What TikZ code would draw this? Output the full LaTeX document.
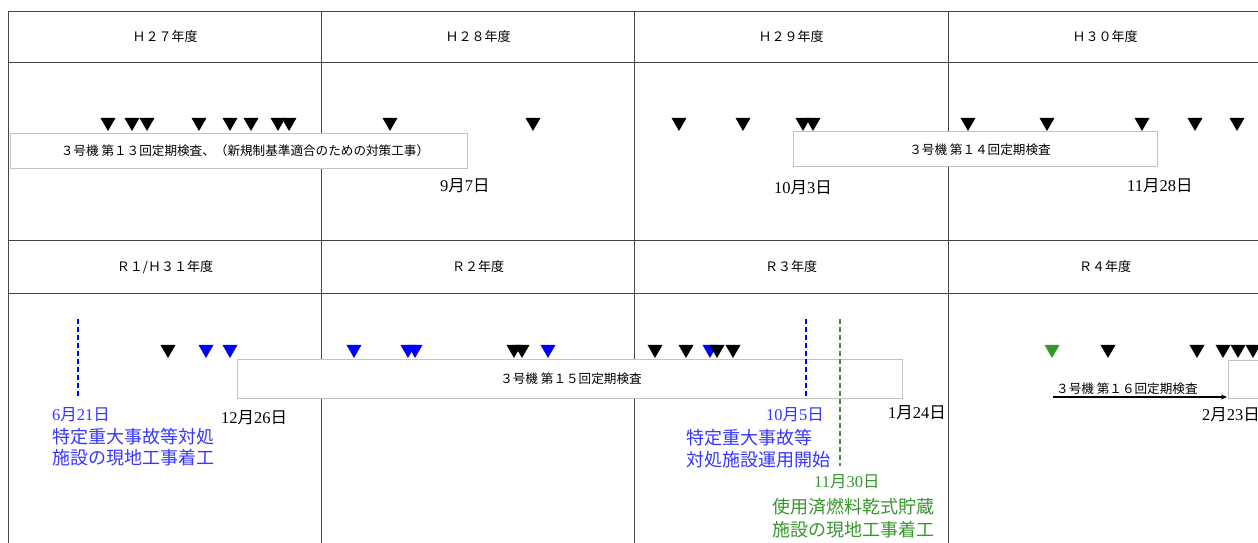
\documentclass[tikz,border=0pt]{standalone}
\usepackage{fontspec}
\setmainfont{Noto Sans CJK JP}
\newfontfamily\sr{Liberation Serif}
\usetikzlibrary{shapes.geometric,arrows.meta}
\definecolor{gridc}{RGB}{70,70,70}
\definecolor{boxc}{RGB}{195,195,195}
\definecolor{myblue}{RGB}{0,0,255}
\definecolor{txtblue}{RGB}{55,55,255}
\definecolor{mygreen}{RGB}{55,150,45}
\tikzset{
  gridline/.style={draw=gridc, line width=1pt},
  tri/.style={regular polygon, regular polygon sides=3, shape border rotate=180,
    minimum size=17.3pt, inner sep=0pt, draw=none, fill=black},
  bluetri/.style={tri, fill=myblue},
  greentri/.style={tri, fill=mygreen},
  hdr/.style={font=\fontsize{13}{15}\selectfont, inner sep=0pt},
  bartext/.style={font=\fontsize{12.6}{14}\selectfont, inner sep=0pt},
  barbox/.style={draw=boxc, line width=0.9pt, fill=white, inner sep=0pt},
  datelbl/.style={font=\fontsize{16.5}{18}\selectfont, inner sep=0pt, anchor=west},
  biglbl/.style={font=\fontsize{18}{20}\selectfont, inner sep=0pt, anchor=west},
  evline/.style={line width=1.6pt, dash pattern=on 5pt off 3pt},
}
\begin{document}
\begin{tikzpicture}[x=1pt,y=-1pt]
\useasboundingbox (0,0) rectangle (1258,543);
\clip (0,0) rectangle (1258,543);
\fill[white] (0,0) rectangle (1258,543);
% grid
\draw[gridline] (8,12) -- (1270,12);
\draw[gridline] (8,63) -- (1270,63);
\draw[gridline] (8,240) -- (1270,240);
\draw[gridline] (8,293) -- (1270,293);
\foreach \xx in {8,321,634,948} \draw[gridline] (\xx,12) -- (\xx,545);
% headers
\node[hdr] (h27) at (165,37) {Ｈ２７年度};
\node[hdr] (h28) at (478,37) {Ｈ２８年度};
\node[hdr] (h29) at (791,37) {Ｈ２９年度};
\node[hdr] (h30) at (1105,37) {Ｈ３０年度};
\node[hdr] (r1) at (165,267) {Ｒ１/Ｈ３１年度};
\node[hdr] (r2) at (478,267) {Ｒ２年度};
\node[hdr] (r3) at (791,267) {Ｒ３年度};
\node[hdr] (r4) at (1105,267) {Ｒ４年度};
% row 1 triangles
\foreach \xx [count=\i] in {108,132,147,199,230,251,278,289,390,533,679,743,803,813,968,1047,1142,1195,1237}
  \node[tri] (ta\i) at (\xx,122.3) {};
% row 1 boxes
\node[barbox, minimum width=457pt, minimum height=35pt] (box13) at (238.5,150.5) {};
\node[bartext] (box13t) at (245,151) {３号機 第１３回定期検査、（新規制基準適合のための対策工事）};
\node[barbox, minimum width=364pt, minimum height=35pt] (box14) at (975,149) {};
\node[bartext] (box14t) at (980,150) {３号機 第１４回定期検査};
% row 1 dates
\node[datelbl] (d1) at (440,186) {{\sr 9}月{\sr 7}日};
\node[datelbl] (d2) at (774,188) {{\sr 10}月{\sr 3}日};
\node[datelbl] (d3) at (1127,186) {{\sr 11}月{\sr 28}日};
% row 2 triangles
\foreach \xx [count=\i] in {206,230,354,408,415,548,710}
  \node[bluetri] (tb\i) at (\xx,349.3) {};
\foreach \xx [count=\i] in {168,514,522,655,686,717,733,1108,1197,1223,1238,1253}
  \node[tri] (tk\i) at (\xx,349.3) {};
\node[greentri] (tg1) at (1052,349.3) {};
% row 2 boxes
\node[barbox, minimum width=665pt, minimum height=39pt] (box15) at (569.5,378.5) {};
\node[bartext] (box15t) at (571,379) {３号機 第１５回定期検査};
\node[barbox, minimum width=60pt, minimum height=38pt] (box16b) at (1258,379) {};
% row 2 event lines (drawn over the bar)
\coordinate (e1a) at (78,319); \coordinate (e1b) at (78,398);
\coordinate (e2a) at (806,319); \coordinate (e2b) at (806,398);
\coordinate (e3a) at (840,319); \coordinate (e3b) at (840,466);
\draw[evline, myblue] (e1a) -- (e1b);
\draw[evline, myblue] (e2a) -- (e2b);
\draw[evline, mygreen] (e3a) -- (e3b);
% R4 arrow
\coordinate (arA) at (1053,397);
\coordinate (arB) at (1227,397);
\draw[line width=1.1pt, -{Stealth[length=6pt,width=5pt]}] (arA) -- (arB);
\node[bartext, anchor=west] (box16t) at (1056,389) {３号機 第１６回定期検査};
% row 2 labels
\node[datelbl, txtblue] (l1) at (52,415) {{\sr 6}月{\sr 21}日};
\node[biglbl, txtblue] (l2) at (52,437) {特定重大事故等対処};
\node[biglbl, txtblue] (l3) at (52,458) {施設の現地工事着工};
\node[datelbl] (l4) at (221,418) {{\sr 12}月{\sr 26}日};
\node[datelbl, txtblue] (l5) at (766,415) {{\sr 10}月{\sr 5}日};
\node[biglbl, txtblue] (l6) at (686,438) {特定重大事故等};
\node[biglbl, txtblue] (l7) at (686,460) {対処施設運用開始};
\node[datelbl] (l8) at (888,413) {{\sr 1}月{\sr 24}日};
\node[datelbl, mygreen] (l9) at (814,482) {{\sr 11}月{\sr 30}日};
\node[biglbl, mygreen] (l10) at (772,507) {使用済燃料乾式貯蔵};
\node[biglbl, mygreen] (l11) at (772,530) {施設の現地工事着工};
\node[datelbl] (l12) at (1202,415) {{\sr 2}月{\sr 23}日};
\end{tikzpicture}
\end{document}
